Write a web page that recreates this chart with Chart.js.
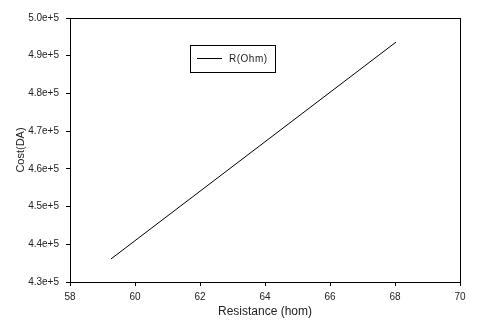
<!DOCTYPE html>
<html>
<head>
<meta charset="utf-8">
<script src="https://cdn.jsdelivr.net/npm/chart.js@4"></script>
<style>
  html, body { margin: 0; padding: 0; background: #fff; }
  #wrap { width: 480px; height: 327px; position: relative; }
</style>
</head>
<body>
<div id="wrap"><canvas id="costChart"></canvas></div>
<script>
// ---- data ----
const resistance = [59.26, 68.03];
const cost       = [436100, 493600];
const seriesName = 'R(Ohm)';
const xTicks = [58, 60, 62, 64, 66, 68, 70];
const yTicks = [430000, 440000, 450000, 460000, 470000, 480000, 490000, 500000];

const font = "'Liberation Sans', Arial, sans-serif";

// box around the plot area (top/right sides)
const frameBox = {
    id: 'frameBox',
    afterDraw(chart) {
        const { ctx, chartArea: a } = chart;
        ctx.save();
        ctx.strokeStyle = '#000';
        ctx.lineWidth = 1;
        ctx.strokeRect(Math.round(a.left) + 0.5, Math.round(a.top) + 0.5,
                       Math.round(a.right - a.left), Math.round(a.bottom - a.top));
        ctx.restore();
    }
};

// legend box placed inside the plot
const boxLegend = {
    id: 'boxLegend',
    afterDraw(chart) {
        const ctx = chart.ctx;
        ctx.save();
        ctx.strokeStyle = '#000';
        ctx.lineWidth = 1;
        ctx.strokeRect(190.5, 45.5, 85, 27);
        ctx.beginPath();
        ctx.moveTo(197, 58.5);
        ctx.lineTo(222, 58.5);
        ctx.stroke();
        ctx.fillStyle = '#222';
        ctx.font = '10px ' + font;
        ctx.textBaseline = 'middle';
        ctx.letterSpacing = '0.5px';
        ctx.fillText(seriesName, 229, 59);
        ctx.restore();
    }
};

new Chart(document.getElementById('costChart').getContext('2d'), {
    type: 'line',
    data: {
        datasets: [{
            label: seriesName,
            data: resistance.map((r, i) => ({ x: r, y: cost[i] })),
            borderColor: '#000',
            borderWidth: 1,
            pointRadius: 0,
            fill: false,
            tension: 0
        }]
    },
    options: {
        responsive: true,
        maintainAspectRatio: false,
        animation: false,
        layout: { padding: { top: 18, right: 20, left: 0, bottom: 0 } },
        plugins: {
            legend: { display: false },
            tooltip: { enabled: false }
        },
        scales: {
            x: {
                type: 'linear',
                min: 58,
                max: 70,
                afterBuildTicks: s => { s.ticks = xTicks.map(v => ({ value: v })); },
                afterFit: s => { s.height = 45; },
                ticks: { color: '#222', font: { family: font, size: 10 }, padding: 5,
                         maxRotation: 0 },
                grid: { drawOnChartArea: false, drawTicks: true, tickLength: 4, color: '#000' },
                border: { color: '#000' },
                title: { display: true, text: 'Resistance (hom)', color: '#222',
                         font: { family: font, size: 12 }, padding: { top: 0, bottom: 8 } }
            },
            y: {
                min: 430000,
                max: 500000,
                afterBuildTicks: s => { s.ticks = yTicks.map(v => ({ value: v })); },
                afterFit: s => { s.width = 70; },
                ticks: { color: '#222', font: { family: font, size: 10 }, padding: 7,
                         callback: v => (v / 1e5).toFixed(1) + 'e+5' },
                grid: { drawOnChartArea: false, drawTicks: true, tickLength: 4, color: '#000' },
                border: { color: '#000' },
                title: { display: true, text: 'Cost(DA)', color: '#222',
                         font: { family: font, size: 11 }, padding: { top: 14, bottom: 0 } }
            }
        }
    },
    plugins: [frameBox, boxLegend]
});
</script>
</body>
</html>
